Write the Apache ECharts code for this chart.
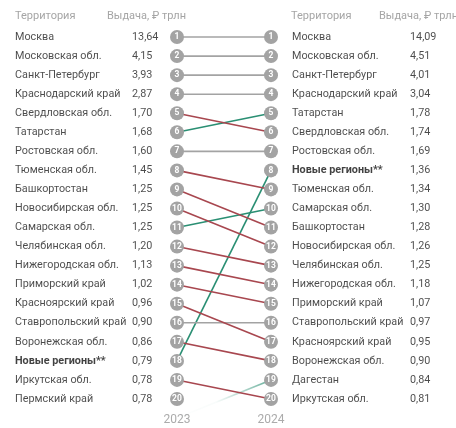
<!DOCTYPE html>
<html style="height: 100%">
    <head>
        <meta charset="utf-8">
    </head>
    <body style="height: 100%; margin: 0; background: #fff">
        <div id="container" style="height: 100%"></div>
        <script type="text/javascript" src="https://cdn.jsdelivr.net/npm/echarts@6/dist/echarts.min.js"></script>
        <script type="text/javascript">

var years = ['2023', '2024'];

var names2023 = ['Москва', 'Московская обл.', 'Санкт-Петербург', 'Краснодарский край', 'Свердловская обл.',
    'Татарстан', 'Ростовская обл.', 'Тюменская обл.', 'Башкортостан', 'Новосибирская обл.',
    'Самарская обл.', 'Челябинская обл.', 'Нижегородская обл.', 'Приморский край', 'Красноярский край',
    'Ставропольский край', 'Воронежская обл.', 'Новые регионы**', 'Иркутская обл.', 'Пермский край'];
var values2023 = [13.64, 4.15, 3.93, 2.87, 1.70, 1.68, 1.60, 1.45, 1.25, 1.25,
    1.25, 1.20, 1.13, 1.02, 0.96, 0.90, 0.86, 0.79, 0.78, 0.78];

var names2024 = ['Москва', 'Московская обл.', 'Санкт-Петербург', 'Краснодарский край', 'Татарстан',
    'Свердловская обл.', 'Ростовская обл.', 'Новые регионы**', 'Тюменская обл.', 'Самарская обл.',
    'Башкортостан', 'Новосибирская обл.', 'Челябинская обл.', 'Нижегородская обл.', 'Приморский край',
    'Ставропольский край', 'Красноярский край', 'Воронежская обл.', 'Дагестан', 'Иркутская обл.'];
var values2024 = [14.09, 4.51, 4.01, 3.04, 1.78, 1.74, 1.69, 1.36, 1.34, 1.30,
    1.28, 1.26, 1.25, 1.18, 1.07, 0.97, 0.95, 0.90, 0.84, 0.81];

// rank used for a region that was outside the top 20 in 2023
var outsideRank = 21;

var dom = document.getElementById('container');
var myChart = echarts.init(dom);

var GREY = '#a3a3a3';
var RED = '#a8474f';
var TEAL = '#2a8f73';
var FONT = 'Roboto, "Noto Sans", sans-serif';
var FS = 10.8;

const fmt = (v) => v.toFixed(2).replace('.', ',');
const nameLabel = (n) => n.indexOf('**') >= 0 ? '{b|' + n + '}' : n;

var lineSeries = names2024.map((name, i) => {
    var r24 = i + 1;
    var idx = names2023.indexOf(name);
    var r23 = idx >= 0 ? idx + 1 : outsideRank;
    var color = r23 === r24 ? GREY : (r24 < r23 ? TEAL : RED);
    if (idx < 0) {
        color = new echarts.graphic.LinearGradient(0, 0, 1, 0, [
            { offset: 0, color: 'rgba(42,143,115,0)' },
            { offset: 0.42, color: 'rgba(42,143,115,0.03)' },
            { offset: 1, color: 'rgba(42,143,115,0.75)' }
        ]);
    }
    return {
        type: 'line',
        data: [[0, r23], [1, r24]],
        symbol: 'none',
        silent: true,
        clip: false,
        z: 1,
        lineStyle: { color: color, width: 1.6 }
    };
});

const textSeries = (xpos, names, fmtFn, offsetX, rich) => ({
    type: 'scatter',
    symbolSize: 0,
    silent: true,
    z: 3,
    data: names.map((n, i) => [xpos, i + 1]),
    label: {
        show: true,
        position: 'inside',
        align: 'left',
        verticalAlign: 'middle',
        offset: [offsetX, 0],
        color: '#1e1e1e',
        fontSize: FS,
        fontFamily: FONT,
        formatter: (p) => fmtFn(p.dataIndex),
        rich: rich ? { b: { fontWeight: 'bold', fontSize: FS, color: '#111', fontFamily: FONT } } : undefined
    }
});

const circleSeries = (xpos) => ({
    type: 'scatter',
    symbol: 'circle',
    symbolSize: 14,
    silent: true,
    z: 4,
    itemStyle: { color: GREY, opacity: 1 },
    data: names2023.map((n, i) => [xpos, i + 1]),
    label: {
        show: true,
        position: 'inside',
        color: '#fff',
        fontSize: 8.5,
        fontWeight: 'bold',
        fontFamily: FONT,
        formatter: (p) => String(p.data[1])
    }
});

const header = (left, text) => ({
    type: 'text',
    left: left,
    top: 11,
    style: { text: text, fill: '#a5a5a5', fontSize: 11, fontFamily: FONT }
});

option = {
    backgroundColor: '#fff',
    animation: false,
    grid: { left: 177, right: 185, top: 27.5, bottom: 19.5 },
    xAxis: {
        type: 'value',
        min: 0,
        max: 1,
        interval: 1,
        axisLine: { show: false },
        axisTick: { show: false },
        splitLine: { show: false },
        axisLabel: {
            color: '#ababab',
            fontSize: 12,
            fontFamily: FONT,
            margin: 5,
            formatter: (v) => years[v]
        }
    },
    yAxis: {
        type: 'value',
        inverse: true,
        min: 0.5,
        max: 20.5,
        show: false
    },
    graphic: [
        header(15, 'Территория'),
        header(107, 'Выдача, ₽ трлн'),
        header(291, 'Территория'),
        header(379, 'Выдача, ₽ трлн')
    ],
    series: lineSeries.concat([
        circleSeries(0),
        circleSeries(1),
        textSeries(0, names2023, (i) => nameLabel(names2023[i]), -162, true),
        textSeries(0, names2023, (i) => fmt(values2023[i]), -45, false),
        textSeries(1, names2024, (i) => nameLabel(names2024[i]), 21, true),
        textSeries(1, names2024, (i) => fmt(values2024[i]), 139, false)
    ])
};

if (option && typeof option === 'object') {
    myChart.setOption(option);
}

        </script>
    </body>
</html>
